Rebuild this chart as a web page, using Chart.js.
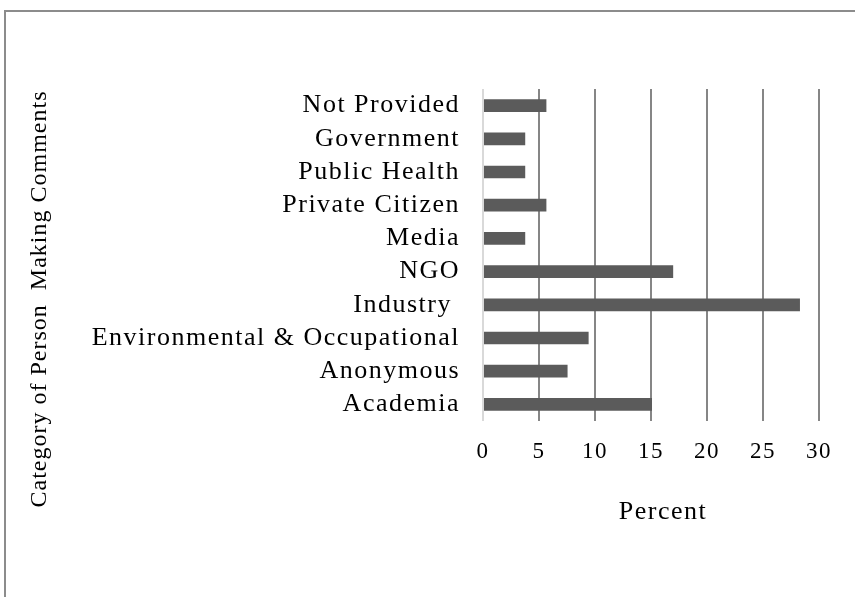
<!DOCTYPE html>
<html>
<head>
<meta charset="utf-8">
<script src="https://cdn.jsdelivr.net/npm/chart.js@4/dist/chart.umd.min.js"></script>
<style>
  html, body { margin: 0; padding: 0; background: #fff; overflow: hidden; }
  #frame {
    position: absolute; left: 4px; top: 10px; width: 1000px; height: 1000px;
    border-left: 2px solid #8c8c8c; border-top: 2px solid #8c8c8c;
  }
  #chart { position: absolute; left: 0; top: 0; }
</style>
</head>
<body>
<div id="frame"></div>
<canvas id="chart" width="855" height="597"></canvas>
<script>
// categories top to bottom, as in the picture
const categories = [
  'Not Provided', 'Government', 'Public Health', 'Private Citizen', 'Media',
  'NGO', 'Industry ', 'Environmental & Occupational', 'Anonymous', 'Academia',
];
const percentValues = [5.66, 3.77, 3.77, 5.66, 3.77, 16.98, 28.3, 9.43, 7.55, 15.09];
const percentTicks = [0, 5, 10, 15, 20, 25, 30];

const serif = '"Liberation Serif", "Times New Roman", serif';

// a little extra spacing to get closer to the Baskerville-like original
const spacing = {
  id: 'spacing',
  beforeLayout(chart) { chart.ctx.letterSpacing = '1.5px'; },
  beforeDraw(chart) { chart.ctx.letterSpacing = '1.5px'; },
};

// y title sits lower than the plot centre, so draw it ourselves
const yTitle = {
  id: 'yTitle',
  afterDraw(chart) {
    const ctx = chart.ctx;
    ctx.save();
    ctx.letterSpacing = '1px';
    ctx.translate(40, 299);
    ctx.rotate(-Math.PI / 2);
    ctx.font = '24px ' + serif;
    ctx.fillStyle = '#000';
    ctx.textAlign = 'center';
    ctx.textBaseline = 'middle';
    ctx.fillText('Category of Person  Making Comments', 0, 0);
    ctx.restore();
  },
};

new Chart(document.getElementById('chart'), {
  type: 'bar',
  data: {
    labels: categories,
    datasets: [{
      data: percentValues,
      backgroundColor: '#5b5b5b',
      borderWidth: 0,
      barPercentage: 0.48,
      categoryPercentage: 0.8,
    }],
  },
  options: {
    indexAxis: 'y',
    responsive: false,
    animation: false,
    devicePixelRatio: 1,
    layout: { padding: { top: 89, right: 36, left: 0, bottom: 0 } },
    plugins: { legend: { display: false }, tooltip: { enabled: false } },
    scales: {
      x: {
        min: 0,
        max: 30,
        afterBuildTicks: (s) => { s.ticks = percentTicks.map((v) => ({ value: v })); },
        afterFit: (s) => { s.height = 176; },
        ticks: { color: '#000', font: { family: serif, size: 23 }, padding: 17 },
        grid: {
          drawTicks: false,
          lineWidth: 2,
          color: (c) => (c.tick && c.tick.value === 0 ? '#d9d9d9' : '#868686'),
        },
        border: { display: false },
        title: {
          display: true,
          text: '   Percent',
          color: '#000',
          font: { family: serif, size: 26 },
          padding: { top: 0, bottom: 69 },
        },
      },
      y: {
        afterFit: (s) => { s.width = 483; },
        ticks: {
          color: '#000',
          font: { family: serif, size: 26 },
          padding: 15,
          autoSkip: false,
        },
        grid: { display: false },
        border: { display: false },
      },
    },
  },
  plugins: [spacing, yTitle],
});
</script>
</body>
</html>
